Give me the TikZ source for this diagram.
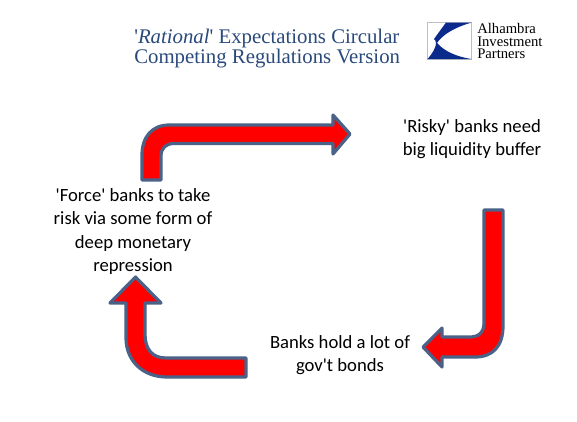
\documentclass[tikz,border=0pt]{standalone}
\usepackage{fontspec}
\newfontfamily\labelfont{Carlito}
\newfontfamily\titlefont{Liberation Serif}
\definecolor{edgeblue}{HTML}{4A6288}
\definecolor{titleblue}{HTML}{2A4A7C}
\definecolor{logoblue}{HTML}{0A2A8C}
\tikzset{
  blockarrow/.style={draw=edgeblue,fill=red,line width=2.4pt,line join=round},
  label/.style={align=center,font=\labelfont\fontsize{14}{17.3}\selectfont,text=black,inner sep=0pt},
  titletext/.style={align=left,anchor=west,font=\titlefont\fontsize{15.6}{15.6}\selectfont,text=titleblue,inner sep=0pt},
  logotext/.style={align=left,anchor=west,font=\titlefont\fontsize{11}{9.6}\selectfont,text=black,inner sep=0pt}
}
\begin{document}
\begin{tikzpicture}[x=0.75pt,y=-0.75pt]
\useasboundingbox (0,0) rectangle (577,421);
\fill[white] (0,0) rectangle (577,421);
% top arrow
\draw[blockarrow] (142,180) -- (142,155) .. controls (142,137) and (152,125) .. (169,125)
  -- (333,125) -- (333,115) -- (350,134) -- (333,154) -- (333,143.5) -- (174,143.5)
  .. controls (166,143.5) and (161,148) .. (161,156) -- (161,180) -- cycle;
% right arrow
\draw[blockarrow] (484,210) -- (503,210) -- (503,326) .. controls (503,346) and (493,357) .. (475,357)
  -- (442,357) -- (442,367) -- (423,347) -- (442,328) -- (442,337) -- (470,337)
  .. controls (479,337) and (484,332) .. (484,323) -- cycle;
% left arrow
\draw[blockarrow] (246,358) -- (246,377) -- (167,377) .. controls (142,377) and (126,360) .. (126,338)
  -- (126,303) -- (110,303) -- (135.5,277) -- (161,303) -- (145,303) -- (145,334)
  .. controls (145,349) and (152,358) .. (166,358) -- cycle;
% text
\node[label] (force) at (133,231.5) {'Force' banks to take\\risk via some form of\\deep monetary\\repression};
\node[label] (risky) at (472,139.5) {'Risky' banks need\\big liquidity buffer};
\node[label] (hold) at (340,355) {Banks hold a lot of\\gov't bonds};
\node[titletext] (title) at (134,48.5) {'\textit{Rational}' Expectations Circular\\Competing Regulations Version};
% logo
\draw[draw=black!25,line width=0.6pt,fill=white] (427.5,22.5) rectangle (471.5,59);
\fill[logoblue] (446,22.5) -- (472,22.5) .. controls (455,27) and (442,35) .. (437,43)
  .. controls (445,52) and (458,57) .. (471.5,59) -- (427.5,59) .. controls (433,53) and (436,47) .. (436,43)
  .. controls (436,41) and (435,40) .. (434,39) -- cycle;
\node[logotext] (logo) at (477,41) {Alhambra\\Investment\\Partners};
\end{tikzpicture}
\end{document}
